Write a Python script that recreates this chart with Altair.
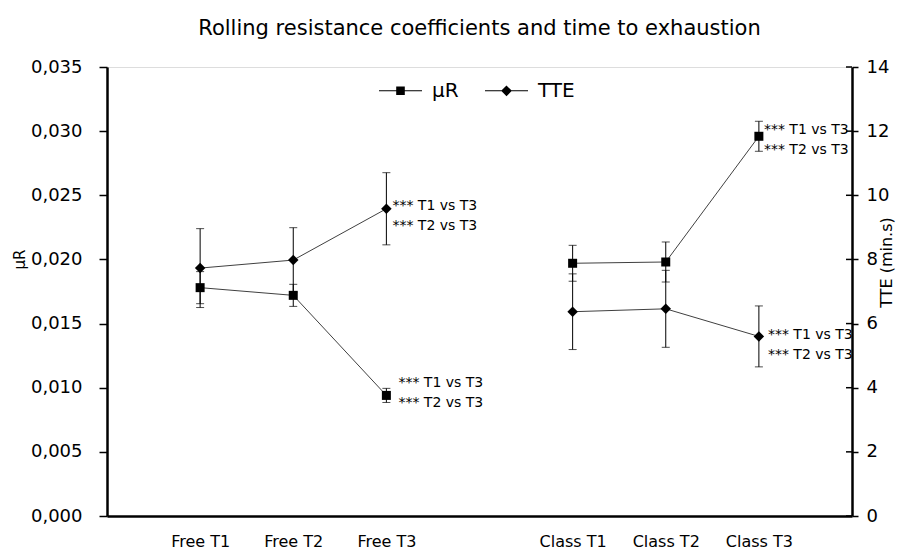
import altair as alt
import pandas as pd

CATEGORIES = ["Free T1", "Free T2", "Free T3", "Class T1", "Class T2", "Class T3"]
GROUPS = ["Free", "Free", "Free", "Class", "Class", "Class"]
X_ORDER = ["Free T1", "Free T2", "Free T3", " ", "Class T1", "Class T2", "Class T3"]
MU_R = [0.0178, 0.0172, 0.0094, 0.0197, 0.0198, 0.0296]
MU_R_SD = [0.00125, 0.00086, 0.00055, 0.0014, 0.00156, 0.00117]
TTE = [7.73, 7.98, 9.58, 6.37, 6.46, 5.60]
TTE_SD = [1.23, 1.01, 1.125, 1.18, 1.20, 0.95]
SIG_TEXT = "*** T1 vs T3\n*** T2 vs T3"
SERIES = ["μR", "TTE"]
MU_TICKS = [0, 0.005, 0.010, 0.015, 0.020, 0.025, 0.030, 0.035]
TTE_TICKS = [0, 2, 4, 6, 8, 10, 12, 14]

FONT = "DejaVu Sans"

df = pd.DataFrame({
    "cat": CATEGORIES,
    "grp": GROUPS,
    "mu": MU_R,
    "mu_lo": [m - s for m, s in zip(MU_R, MU_R_SD)],
    "mu_hi": [m + s for m, s in zip(MU_R, MU_R_SD)],
    "tte": TTE,
    "tte_lo": [m - s for m, s in zip(TTE, TTE_SD)],
    "tte_hi": [m + s for m, s in zip(TTE, TTE_SD)],
    "sig": [SIG_TEXT if c.endswith("T3") else "" for c in CATEGORIES],
})

x_enc = alt.X(
    "cat:N",
    scale=alt.Scale(type="point", domain=X_ORDER, padding=1),
    axis=alt.Axis(title=None, ticks=False, labelPadding=17, labelFont=FONT,
                  labelFontSize=16, labelColor="black", labelAngle=0,
                  domainColor="black", domainWidth=2.5, grid=False),
)

mu_scale = alt.Scale(domain=[0, 0.035], nice=False, zero=True)
tte_scale = alt.Scale(domain=[0, 14], nice=False, zero=True)

mu_axis = alt.Axis(
    title="μR", orient="left", values=MU_TICKS,
    labelExpr="replace(format(datum.value, '.3f'), '.', ',')",
    grid=False, tickSize=8, tickWidth=1.5, tickColor="black",
    domainColor="black", domainWidth=2.5, labelPadding=17,
    labelFont=FONT, labelFontSize=18, labelColor="black",
    titleFont=FONT, titleFontSize=15, titleFontWeight="normal", titleColor="black",
    titleAngle=270, titleX=-88, titleY=192, titleAlign="center", titleBaseline="middle",
)
tte_axis = alt.Axis(
    title="TTE (min.s)", orient="right", values=TTE_TICKS, format="d",
    grid=False, tickSize=6, tickWidth=1.5, tickColor="black",
    domainColor="black", domainWidth=2.5, labelPadding=8,
    labelFont=FONT, labelFontSize=18, labelColor="black",
    titleFont=FONT, titleFontSize=16, titleFontWeight="normal", titleColor="black",
    titleAngle=270, titleX=34, titleY=195, titleAlign="center", titleBaseline="middle",
)

def ymu(field):
    return alt.Y(f"{field}:Q", scale=mu_scale, axis=mu_axis)

def ytte(field):
    return alt.Y(f"{field}:Q", scale=tte_scale, axis=tte_axis)

base = alt.Chart(df)

LINE_COLOR = "#404040"

def build(prefix, yf, shape, size, ann):
    line = base.mark_line(color=LINE_COLOR, strokeWidth=1).encode(
        x=x_enc, y=yf(prefix), detail="grp:N")
    err = base.mark_rule(color="black", strokeWidth=1).encode(
        x=x_enc, y=yf(prefix + "_lo"), y2=f"{prefix}_hi:Q")
    cap_lo = base.mark_tick(color="black", size=8, thickness=1).encode(
        x=x_enc, y=yf(prefix + "_lo"))
    cap_hi = base.mark_tick(color="black", size=8, thickness=1).encode(
        x=x_enc, y=yf(prefix + "_hi"))
    pts = base.mark_point(shape=shape, filled=True, size=size, color="black",
                          opacity=1).encode(x=x_enc, y=yf(prefix))
    layers = [line, err, cap_lo, cap_hi, pts]
    for cat, dx, dy in ann:
        layers.append(
            base.transform_filter(alt.datum.cat == cat).mark_text(
                align="left", baseline="middle", lineBreak="\n", lineHeight=20,
                font=FONT, fontSize=14, color="black", dx=dx, dy=dy,
            ).encode(x=x_enc, y=yf(prefix), text="sig:N")
        )
    return layers

mu_layers = build("mu", ymu, "square", 81,
                  [("Free T3", 12, -12), ("Class T3", 5, -6)])
tte_layers = build("tte", ytte, "diamond", 110,
                   [("Free T3", 6, -3), ("Class T3", 9, -1)])

inner_ticks = alt.Chart(pd.DataFrame({"t": TTE_TICKS})).mark_rule(
    color="black", strokeWidth=1.5).encode(
    y=alt.Y("t:Q", scale=tte_scale, axis=tte_axis),
    x=alt.value(739), x2=alt.value(745))

# legend glyphs: thin horizontal bar (the line) plus the marker, as filled paths
PATH_SQ = "M-1,-0.025H1V0.025H-1Z M-0.2,-0.2H0.2V0.2H-0.2Z"
PATH_DI = "M-1,-0.025H1V0.025H-1Z M0,-0.25L0.25,0L0,0.25L-0.25,0Z"

legend_layer = alt.Chart(pd.DataFrame({"series": SERIES})).mark_point(
    filled=True, opacity=0, color="black").encode(
    shape=alt.Shape("series:N", scale=alt.Scale(domain=SERIES, range=[PATH_SQ, PATH_DI]),
                    legend=alt.Legend(
                        title=None, orient="none", legendX=272, legendY=2,
                        direction="horizontal", symbolSize=1849, symbolStrokeWidth=0,
                        symbolFillColor="black",
                        symbolOpacity=1, labelFont=FONT, labelFontSize=20,
                        labelColor="black", labelOffset=10, columnPadding=26,
                        padding=0)))

mu_group = alt.layer(*mu_layers)
tte_group = alt.layer(*tte_layers, inner_ticks)

chart = alt.layer(mu_group, tte_group, legend_layer).resolve_scale(
    y="independent", shape="independent"
).properties(
    width=745, height=449,
    padding={"left": 99, "top": 59, "right": 51, "bottom": 35},
    autosize=alt.AutoSizeParams(type="none"),
    title=alt.TitleParams(
        "Rolling resistance coefficients and time to exhaustion",
        font=FONT, fontSize=21, fontWeight="normal", color="black",
        anchor="middle", offset=29, baseline="bottom", dy=31),
).configure_view(stroke=None).configure(background="white")

chart.save("out.html", embed_options={"renderer": "svg", "actions": False})
